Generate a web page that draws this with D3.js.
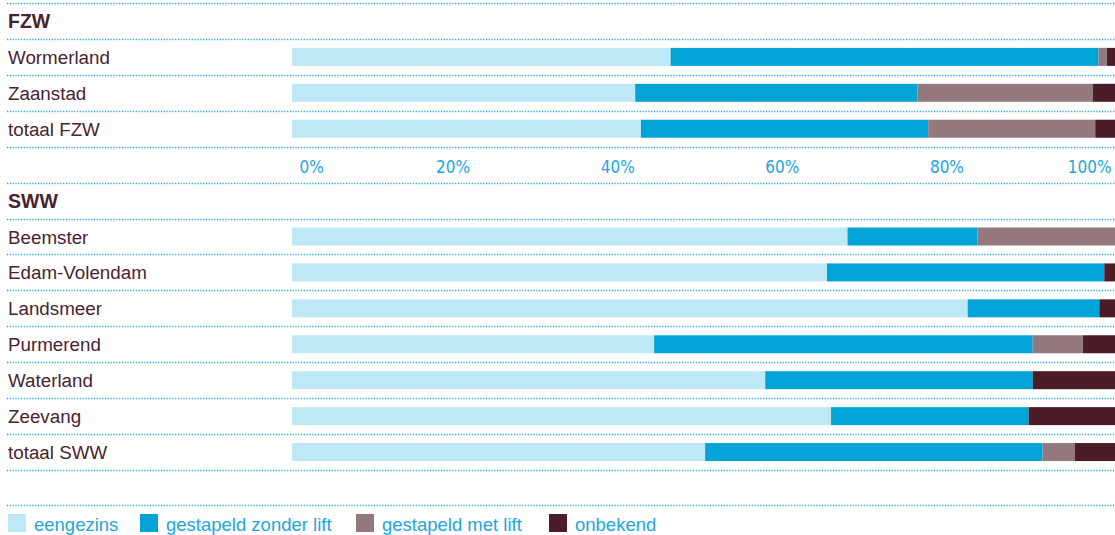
<!DOCTYPE html>
<html>
<head>
<meta charset="utf-8">
<script src="https://cdn.jsdelivr.net/npm/d3@7"></script>
<style>
  html, body { margin: 0; padding: 0; background: #fff; }
  svg { display: block; }
</style>
</head>
<body>
<svg id="chart" width="1115" height="535"></svg>
<script>
// Woningtype per gemeente, aandeel in procenten
const fzwRows = ["Wormerland", "Zaanstad", "totaal FZW"];
const swwRows = ["Beemster", "Edam-Volendam", "Landsmeer", "Purmerend", "Waterland", "Zeevang", "totaal SWW"];
const municipalities = fzwRows.concat(swwRows);

const seriesNames = ["eengezins", "gestapeld zonder lift", "gestapeld met lift", "onbekend"];
const eengezins   = [46.0, 41.7, 42.4, 67.5, 65.0, 82.1, 44.0, 57.5, 65.5, 50.2];
const zonderLift  = [52.0, 34.3, 34.9, 15.8, 33.7, 16.0, 46.0, 32.5, 24.0, 41.0];
const metLift     = [ 1.0, 21.3, 20.3, 16.7,  0.0,  0.0,  6.1,  0.0,  0.0,  3.9];
const onbekend    = [ 1.0,  2.7,  2.4,  0.0,  1.3,  1.9,  3.9, 10.0, 10.5,  4.9];
const tickValues  = [0, 20, 40, 60, 80, 100];

const colors = ["#bee8f5", "#02a4d8", "#93797d", "#4a1d29"];
const cyan = "#22a6dd";
const maroon = "#4a2330";

const table = municipalities.map((name, i) => ({
  name,
  "eengezins": eengezins[i],
  "gestapeld zonder lift": zonderLift[i],
  "gestapeld met lift": metLift[i],
  "onbekend": onbekend[i]
}));
const stacked = d3.stack().keys(seriesNames)(table);

const svg = d3.select("#chart");

// Rows: group header, municipalities, an axis row between the two groups
const rowKeys = ["h:FZW", ...fzwRows, "axis", "h:SWW", ...swwRows];
const y = d3.scaleBand().domain(rowKeys).range([3, 470]).padding(0);
const x = d3.scaleLinear().domain([0, 100]).range([292, 1115]);
const bw = y.bandwidth();

// dotted separators
const lineYs = rowKeys.map(k => y(k)).concat([y(rowKeys[rowKeys.length - 1]) + bw, 505]);
svg.append("g").selectAll("line").data(lineYs).join("line")
  .attr("x1", 7).attr("x2", 1115)
  .attr("y1", d => Math.round(d) + 0.5).attr("y2", d => Math.round(d) + 0.5)
  .attr("stroke", cyan).attr("stroke-width", 1.5)
  .attr("stroke-dasharray", "1.2 1.6");

// labels
const labelFont = "'Liberation Sans', Arial, sans-serif";
svg.append("g").selectAll("text").data(rowKeys.filter(k => k !== "axis")).join("text")
  .attr("x", 8)
  .attr("y", k => y(k) + bw / 2 + 7)
  .attr("fill", maroon)
  .attr("font-family", labelFont)
  .attr("font-size", k => k.startsWith("h:") ? 19.5 : 18.8)
  .attr("font-weight", k => k.startsWith("h:") ? "bold" : "normal")
  .text(k => k.startsWith("h:") ? k.slice(2) : k);

// stacked bars
svg.append("g").selectAll("g").data(stacked).join("g")
  .attr("fill", (d, i) => colors[i])
  .selectAll("rect").data(d => d).join("rect")
  .attr("x", d => x(d[0]))
  .attr("width", d => Math.max(0, x(d[1]) - x(d[0])))
  .attr("y", d => y(d.data.name) + bw / 2 - 9)
  .attr("height", 18);

// percentage axis between the groups
const axisG = svg.append("g")
  .attr("transform", `translate(0,${y("axis")})`)
  .call(d3.axisBottom(x).tickValues(tickValues).tickFormat(d => d + "%").tickSize(0));
axisG.select(".domain").remove();
axisG.selectAll("text")
  .attr("y", 26).attr("dy", 0)
  .attr("fill", cyan)
  .attr("font-family", "'Liberation Sans Narrow', 'DejaVu Sans Condensed', sans-serif")
  .attr("font-size", 17)
  .attr("text-anchor", (d, i) => i === 0 ? "start" : (i === tickValues.length - 1 ? "end" : "middle"))
  .attr("dx", (d, i) => i === 0 ? 7 : (i === tickValues.length - 1 ? -4 : -4));

// legend
const legendX = [8, 140, 356, 549];
const legend = svg.append("g").selectAll("g").data(seriesNames).join("g")
  .attr("transform", (d, i) => `translate(${legendX[i]},514)`);
legend.append("rect").attr("width", 18).attr("height", 18).attr("fill", (d, i) => colors[i]);
legend.append("text")
  .attr("x", 26).attr("y", 17)
  .attr("fill", cyan)
  .attr("font-family", labelFont)
  .attr("font-size", 18.5)
  .text(d => d);
</script>
</body>
</html>
